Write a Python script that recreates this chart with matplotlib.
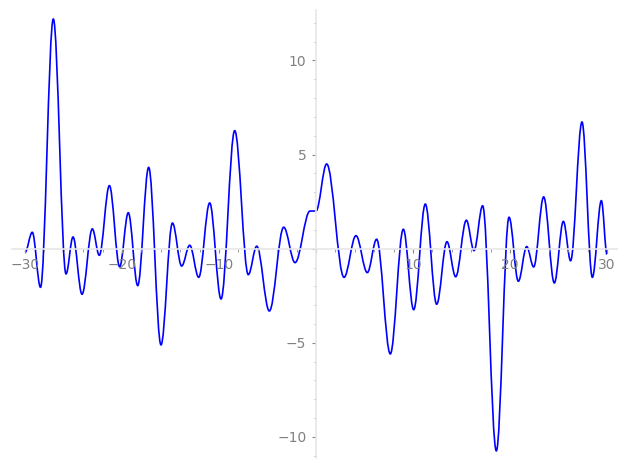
import matplotlib
matplotlib.use("Agg")
import matplotlib.pyplot as plt
from matplotlib.path import Path
from matplotlib.patches import PathPatch
from matplotlib.ticker import MultipleLocator, FuncFormatter

# turning points of the curve
x_pts = [-30.0, -29.25, -28.4, -27.08, -25.77, -25.05, -24.12, -23.06, -22.34,
         -21.3, -20.24, -19.35, -18.38, -17.25, -15.98, -14.8, -13.85, -13.02,
         -12.09, -10.96, -9.79, -8.38, -6.98, -6.11, -4.81, -3.33, -2.16,
         -0.62, 0.0, 1.1, 2.89, 4.12, 5.29, 6.25, 7.66, 9.0, 10.07, 11.27,
         12.44, 13.5, 14.4, 15.5, 16.29, 17.18, 18.59, 19.9, 20.86, 21.72,
         22.44, 23.47, 24.57, 25.5, 26.25, 27.42, 28.49, 29.42, 30.0]
y_pts = [-0.2, 0.87, -2.05, 12.2, -1.34, 0.62, -2.42, 1.05, -0.35,
         3.35, -0.96, 1.91, -1.96, 4.32, -5.11, 1.36, -0.92, 0.18,
         -1.52, 2.43, -2.67, 6.27, -1.38, 0.13, -3.31, 1.14, -0.74,
         2.0, 2.0, 4.5, -1.52, 0.69, -1.27, 0.5, -5.59, 1.03, -3.24, 2.37,
         -2.95, 0.37, -1.49, 1.51, -0.1, 2.28, -10.74, 1.67, -1.73, 0.11,
         -0.97, 2.75, -1.82, 1.45, -0.64, 6.73, -1.52, 2.55, -0.3]

fig = plt.figure(figsize=(6.27, 4.7), dpi=100)
ax = fig.add_axes([12 / 627, 12 / 470, 605 / 627, 448 / 470])

# smooth curve: cubic pieces with flat tangents at each turning point
verts = [(x_pts[0], y_pts[0])]
codes = [Path.MOVETO]
k = 0.36
for x0, y0, x1, y1 in zip(x_pts[:-1], y_pts[:-1], x_pts[1:], y_pts[1:]):
    dx = x1 - x0
    verts += [(x0 + k * dx, y0), (x1 - k * dx, y1), (x1, y1)]
    codes += [Path.CURVE4] * 3
ax.add_patch(PathPatch(Path(verts, codes), facecolor="none", edgecolor="blue", lw=1.2))

ax.set_xlim(-31.34, 31.03)
ax.set_ylim(-11.12, 12.68)

for side in ["top", "right"]:
    ax.spines[side].set_visible(False)
ax.spines["left"].set_position(("data", 0))
ax.spines["bottom"].set_position(("data", 0))
for side in ["left", "bottom"]:
    ax.spines[side].set_color("#e6e6e6")
    ax.spines[side].set_linewidth(1.2)

ax.xaxis.set_major_locator(MultipleLocator(10))
ax.xaxis.set_minor_locator(MultipleLocator(2))
ax.yaxis.set_major_locator(MultipleLocator(5))
ax.yaxis.set_minor_locator(MultipleLocator(1))
fmt = FuncFormatter(lambda v, p: "" if abs(v) < 1e-9 else f"{v:.0f}".replace("-", "\u2212"))
ax.xaxis.set_major_formatter(fmt)
ax.yaxis.set_major_formatter(fmt)
ax.tick_params(which="both", direction="out", color="#888888", labelcolor="#808080", labelsize=10)
ax.tick_params(which="major", length=3, width=0.8, pad=4)
ax.tick_params(which="minor", length=1.8, width=0.6)
ax.patch.set_alpha(0)

fig.savefig("out.png", dpi=100)
